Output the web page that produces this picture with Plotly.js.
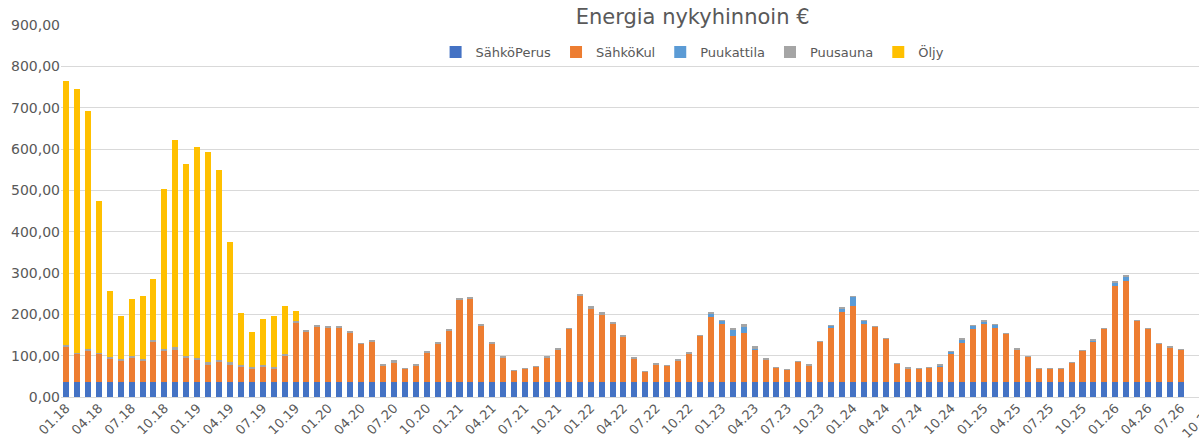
<!DOCTYPE html>
<html>
<head>
<meta charset="utf-8">
<script src="https://cdn.plot.ly/plotly-3.0.1.min.js"></script>
<style>
  html, body { margin: 0; padding: 0; background: #fff; }
  #chart { width: 1199px; height: 444px; }
</style>
</head>
<body>
<div id="chart"></div>
<script>
// kuukaudet (akseli jatkuu kuvan reunan yli)
const kuukaudet = [
  '01.18','02.18','03.18','04.18','05.18','06.18','07.18','08.18','09.18','10.18','11.18','12.18',
  '01.19','02.19','03.19','04.19','05.19','06.19','07.19','08.19','09.19','10.19','11.19','12.19',
  '01.20','02.20','03.20','04.20','05.20','06.20','07.20','08.20','09.20','10.20','11.20','12.20',
  '01.21','02.21','03.21','04.21','05.21','06.21','07.21','08.21','09.21','10.21','11.21','12.21',
  '01.22','02.22','03.22','04.22','05.22','06.22','07.22','08.22','09.22','10.22','11.22','12.22',
  '01.23','02.23','03.23','04.23','05.23','06.23','07.23','08.23','09.23','10.23','11.23','12.23',
  '01.24','02.24','03.24','04.24','05.24','06.24','07.24','08.24','09.24','10.24','11.24','12.24',
  '01.25','02.25','03.25','04.25','05.25','06.25','07.25','08.25','09.25','10.25','11.25','12.25',
  '01.26','02.26','03.26','04.26','05.26','06.26','07.26','08.26','09.26','10.26'
];

const sahkoPerus = [
  35.5, 35.5, 35.5, 35.5, 35.5, 35.5, 35.5, 35.5, 35.5, 35.5, 35.5, 35.5,
  35.5, 35.5, 35.5, 35.5, 35.5, 35.5, 35.5, 35.5, 35.5, 35.5, 35.5, 35.5,
  35.5, 35.5, 35.5, 35.5, 35.5, 35.5, 35.5, 35.5, 35.5, 35.5, 35.5, 35.5,
  35.5, 35.5, 35.5, 35.5, 35.5, 35.5, 35.5, 35.5, 35.5, 35.5, 35.5, 35.5,
  35.5, 35.5, 35.5, 35.5, 35.5, 35.5, 35.5, 35.5, 35.5, 35.5, 35.5, 35.5,
  35.5, 35.5, 35.5, 35.5, 35.5, 35.5, 35.5, 35.5, 35.5, 35.5, 35.5, 35.5,
  35.5, 35.5, 35.5, 35.5, 35.5, 35.5, 35.5, 35.5, 35.5, 35.5, 35.5, 35.5,
  35.5, 35.5, 35.5, 35.5, 35.5, 35.5, 35.5, 35.5, 35.5, 35.5, 35.5, 35.5,
  35.5, 35.5, 35.5, 35.5, 35.5, 35.5, 35.5
];

const sahkoKul = [
  85.5, 68.5, 75.5, 68.5, 56.5, 51.5, 58, 51.5, 96.5, 76.5, 79, 58.5,
  54, 42.5, 48.5, 42.5, 36.5, 33, 37, 32, 64.5, 144.5, 122.5, 133,
  132, 132, 119.5, 92, 97.5, 39.5, 47.5, 32, 39.5, 71.5, 92, 124.5,
  198, 202, 135.5, 92, 59, 26.5, 31.5, 37, 60, 77.5, 128.5, 208.5,
  178.5, 163.5, 141.5, 110.5, 57.5, 25, 43, 40.5, 51.5, 69.5, 112.5, 158.5,
  140, 112.5, 120.5, 79, 53.5, 34.5, 30, 48.5, 39.5, 98, 132, 169.5,
  185, 140, 133.5, 104, 43.5, 32.5, 31.5, 34.5, 36.5, 68.5, 95.5, 128.5,
  140, 132.5, 116.5, 79, 60.5, 31.5, 31.5, 31.5, 46, 76, 98, 128.5,
  232, 244, 148.5, 130, 93, 84, 78.5
];

const puukattila = [
  0, 0, 0, 0, 0, 0, 0, 0, 0, 0, 0, 0,
  0, 0, 0, 0, 0, 0, 0, 0, 0, 0, 0, 0,
  0, 0, 0, 0, 0, 0, 0, 0, 0, 0, 0, 0,
  0, 0, 0, 0, 0, 0, 0, 0, 0, 0, 0, 0,
  0, 0, 0, 0, 0, 0, 0, 0, 0, 0, 0, 8,
  8.5, 13.5, 14.5, 1.5, 0, 0, 0, 0, 0, 0, 4, 8.5,
  21.5, 8, 0, 0, 0, 0, 0, 0, 2, 4, 7, 7,
  7, 6, 0, 0, 0, 0, 0, 0, 0, 0, 2, 0,
  9.5, 12, 0, 0, 0, 0, 0
];

const puusauna = [
  5.5, 3, 5, 3, 5, 4, 5, 4, 5, 4, 6.5, 6,
  5.5, 6, 5.5, 6, 4.5, 4, 5.5, 4, 5, 3, 3, 5,
  4, 4, 4, 4, 4, 4, 7, 2.5, 5, 4, 4.5, 4,
  6.5, 5.5, 5, 5, 4, 3.5, 3, 2.5, 4, 5, 4, 4,
  5.5, 6, 4.5, 3.5, 3, 3.5, 3, 2.5, 4.5, 3, 1.5, 3,
  3.5, 5.5, 5.5, 7.5, 4.5, 2, 2.5, 2.5, 4, 2.5, 2, 4,
  2, 3, 2, 2.5, 2.5, 4, 3, 2.5, 7, 4, 4, 3.5,
  3.5, 2, 2, 3, 2.5, 2.5, 2.5, 2.5, 2.5, 2.5, 4, 4,
  3, 2.5, 2.5, 2.5, 2.5, 3, 2.5
];

const oljy = [
  637.5, 638, 577, 366, 159, 104.5, 139, 153, 148, 387, 501, 464,
  509, 508, 459.5, 291, 127.5, 84.5, 110, 123.7, 115.7, 24.6, 0, 0
];

const sarjat = [
  { name: 'SähköPerus', y: sahkoPerus, color: '#4472C4' },
  { name: 'SähköKul', y: sahkoKul, color: '#ED7D31' },
  { name: 'Puukattila', y: puukattila, color: '#5B9BD5' },
  { name: 'Puusauna', y: puusauna, color: '#A5A5A5' },
  { name: 'Öljy', y: oljy, color: '#FFC000' }
];

const data = sarjat.map(s => ({
  type: 'bar',
  name: s.name,
  x: kuukaudet.slice(0, s.y.length),
  y: s.y,
  marker: { color: s.color }
}));

// joka kolmas kuukausi akselille
const tickit = kuukaudet.filter((k, i) => i % 3 === 0);
const xRange = [-0.46, 103.66];

// viimeinen tikki jää reunan yli, piirretään se erikseen (näkyy vain alku)
const viimeinen = tickit[tickit.length - 1];
const viimX = (kuukaudet.indexOf(viimeinen) + 0.5 - xRange[0]) / (xRange[1] - xRange[0]);

const harmaa = '#595959';

var layout = {
  width: 1199,
  height: 444,
  margin: { l: 61, r: 0, t: 25, b: 47 },
  paper_bgcolor: '#fff',
  plot_bgcolor: '#fff',
  font: { family: 'DejaVu Sans', size: 13, color: harmaa },
  separators: ', ',
  barmode: 'stack',
  bargap: 0.45,
  showlegend: true,
  title: {
    text: 'Energia nykyhinnoin €',
    font: { size: 21, color: harmaa },
    x: 0.555, xref: 'paper', xanchor: 'center',
    y: 0.962, yref: 'container', yanchor: 'middle'
  },
  legend: {
    orientation: 'h',
    x: 0.555, xanchor: 'center',
    y: 0.927, yanchor: 'middle',
    traceorder: 'normal',
    itemwidth: 30,
    font: { size: 13, color: harmaa },
    bgcolor: 'rgba(0,0,0,0)'
  },
  xaxis: {
    type: 'category',
    categoryorder: 'array',
    categoryarray: kuukaudet,
    range: xRange,
    tickmode: 'array',
    tickvals: tickit,
    ticktext: tickit,
    tickangle: -45,
    ticks: '',
    showgrid: false,
    showline: false,
    zeroline: false,
    tickfont: { size: 13, color: harmaa }
  },
  yaxis: {
    range: [0, 900],
    dtick: 100,
    tickformat: '.2f',
    showgrid: true,
    gridcolor: '#D9D9D9',
    gridwidth: 1,
    zeroline: true,
    zerolinecolor: '#D9D9D9',
    zerolinewidth: 1,
    showline: false,
    ticks: '',
    tickfont: { size: 14, color: harmaa }
  },
  annotations: [{
    text: viimeinen,
    xref: 'paper', yref: 'paper',
    x: viimX, y: -0.012,
    xanchor: 'right', yanchor: 'top',
    textangle: -45,
    showarrow: false,
    font: { size: 13, color: harmaa }
  }]
};

Plotly.newPlot('chart', data, layout, { displayModeBar: false, staticPlot: true });
</script>
</body>
</html>
